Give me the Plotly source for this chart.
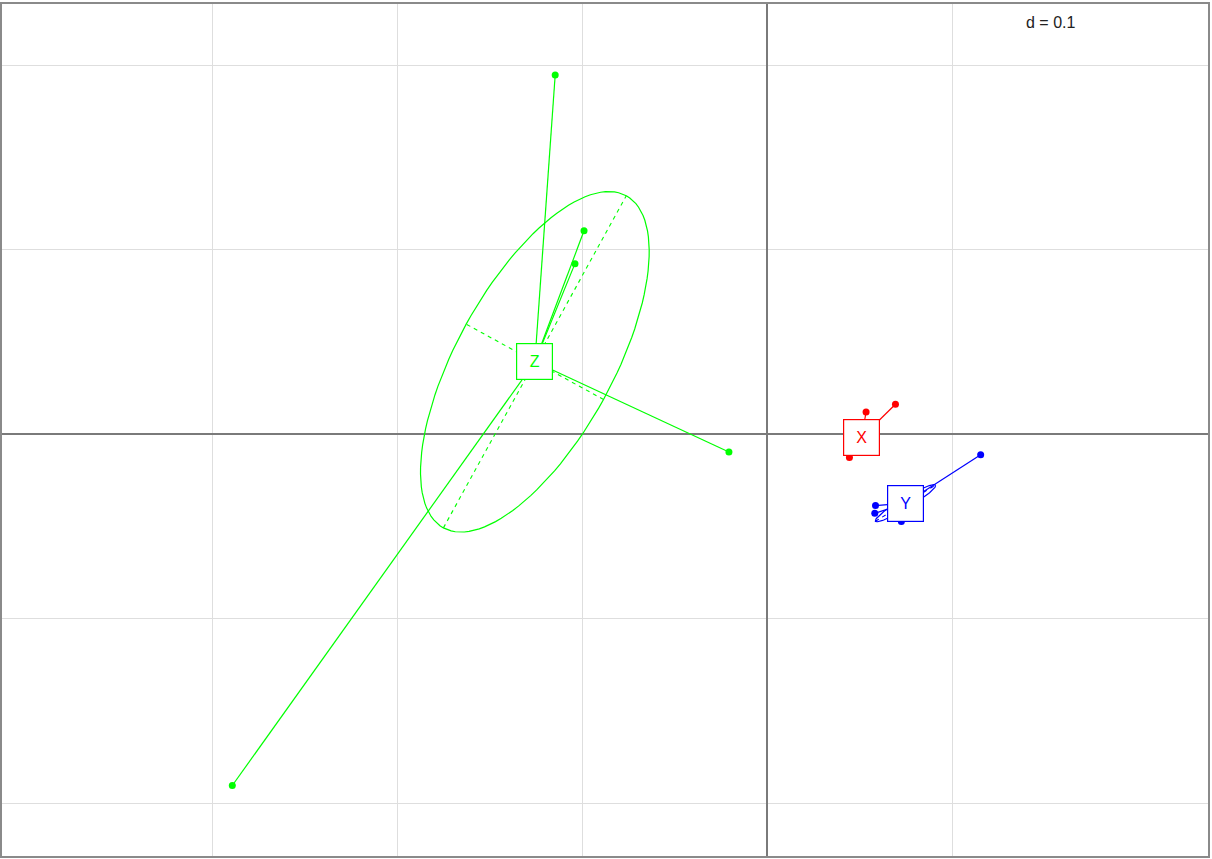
import numpy as np
import plotly.graph_objects as go

# ---- data ----
classes = ["X", "Y", "Z"]
class_colors = ["#ff0000", "#0000ff", "#00ff00"]

x_X = [0.0535, 0.0694, 0.0445]
y_X = [0.0120, 0.0162, -0.0126]
x_Y = [0.1155, 0.0586, 0.0582, 0.0726]
y_Y = [-0.0112, -0.0387, -0.0429, -0.0474]
x_Z = [-0.1147, -0.0991, -0.1040, -0.0207, -0.2894]
y_Z = [0.1946, 0.1102, 0.0924, -0.0097, -0.1904]

center_x = [0.0511, 0.0748, -0.1257]
center_y = [-0.0018, -0.0374, 0.0392]

# ellipse semi-axes and orientation (degrees)
ell_a = [0.0, 0.019, 0.1027]
ell_b = [0.0, 0.0028, 0.0424]
ell_angle = [0.0, 31.0, 61.2]

grid_x = [-0.3, -0.2, -0.1, 0.0, 0.1]
grid_y = [-0.2, -0.1, 0.0, 0.1, 0.2]
x_range = [-0.4140, 0.2385]
y_range = [-0.2286, 0.2331]
scale_label = "d = 0.1"

pts_x = {"X": x_X, "Y": x_Y, "Z": x_Z}
pts_y = {"X": y_X, "Y": y_Y, "Z": y_Z}

fig = go.Figure()

# ellipses + dashed axes
for i, c in enumerate(classes):
    a, b = ell_a[i], ell_b[i]
    if a <= 0:
        continue
    th = np.deg2rad(ell_angle[i])
    cx, cy = center_x[i], center_y[i]
    t = np.linspace(0, 2 * np.pi, 121)
    ex = cx + a * np.cos(th) * np.cos(t) - b * np.sin(th) * np.sin(t)
    ey = cy + a * np.sin(th) * np.cos(t) + b * np.cos(th) * np.sin(t)
    fig.add_trace(go.Scatter(x=ex, y=ey, mode="lines",
                             line=dict(color=class_colors[i], width=1.2),
                             hoverinfo="skip", showlegend=False))
    ax_x = [cx - a * np.cos(th), cx + a * np.cos(th), None,
            cx + b * np.sin(th), cx - b * np.sin(th)]
    ax_y = [cy - a * np.sin(th), cy + a * np.sin(th), None,
            cy - b * np.cos(th), cy + b * np.cos(th)]
    fig.add_trace(go.Scatter(x=ax_x, y=ax_y, mode="lines",
                             line=dict(color=class_colors[i], width=1.1, dash="4px,4px"),
                             hoverinfo="skip", showlegend=False))

# stars: segments from class center to each point
for i, c in enumerate(classes):
    sx, sy = [], []
    for px, py in zip(pts_x[c], pts_y[c]):
        sx += [center_x[i], px, None]
        sy += [center_y[i], py, None]
    fig.add_trace(go.Scatter(x=sx, y=sy, mode="lines",
                             line=dict(color=class_colors[i], width=1.2),
                             hoverinfo="skip", showlegend=False))

# points
for i, c in enumerate(classes):
    fig.add_trace(go.Scatter(x=pts_x[c], y=pts_y[c], mode="markers",
                             marker=dict(color=class_colors[i], size=7),
                             name=c, showlegend=False))

# class labels in white boxes
for i, c in enumerate(classes):
    fig.add_annotation(x=center_x[i], y=center_y[i], text=c, showarrow=False,
                       xanchor="center", yanchor="middle",
                       font=dict(family="Liberation Sans, Arial", size=16, color=class_colors[i]),
                       bgcolor="white", bordercolor=class_colors[i], borderwidth=1.2,
                       borderpad=0, width=35, height=35, align="center", valign="middle")

fig.add_annotation(xref="paper", yref="paper", x=0.869, y=0.978, text=scale_label,
                   xanchor="center", yanchor="middle",
                   showarrow=False, font=dict(family="Liberation Sans, Arial", size=16, color="#222222"),
                   bgcolor="white")

axis_common = dict(showticklabels=False, ticks="", showgrid=True, gridcolor="#dedede",
                   gridwidth=1, zeroline=True, zerolinecolor="#7a7a7a", zerolinewidth=1.6,
                   showline=True, mirror=True, linecolor="#8a8a8a", linewidth=2)

fig.update_layout(
    width=1212, height=859,
    margin=dict(l=2, r=2, t=2, b=3),
    plot_bgcolor="white", paper_bgcolor="white",
    xaxis=dict(range=x_range, tickvals=grid_x, **axis_common),
    yaxis=dict(range=y_range, tickvals=grid_y, **axis_common),
)

fig.write_html("out.html", config={"displayModeBar": False},
               post_script="document.body.style.margin='0';document.body.style.overflow='hidden';")
